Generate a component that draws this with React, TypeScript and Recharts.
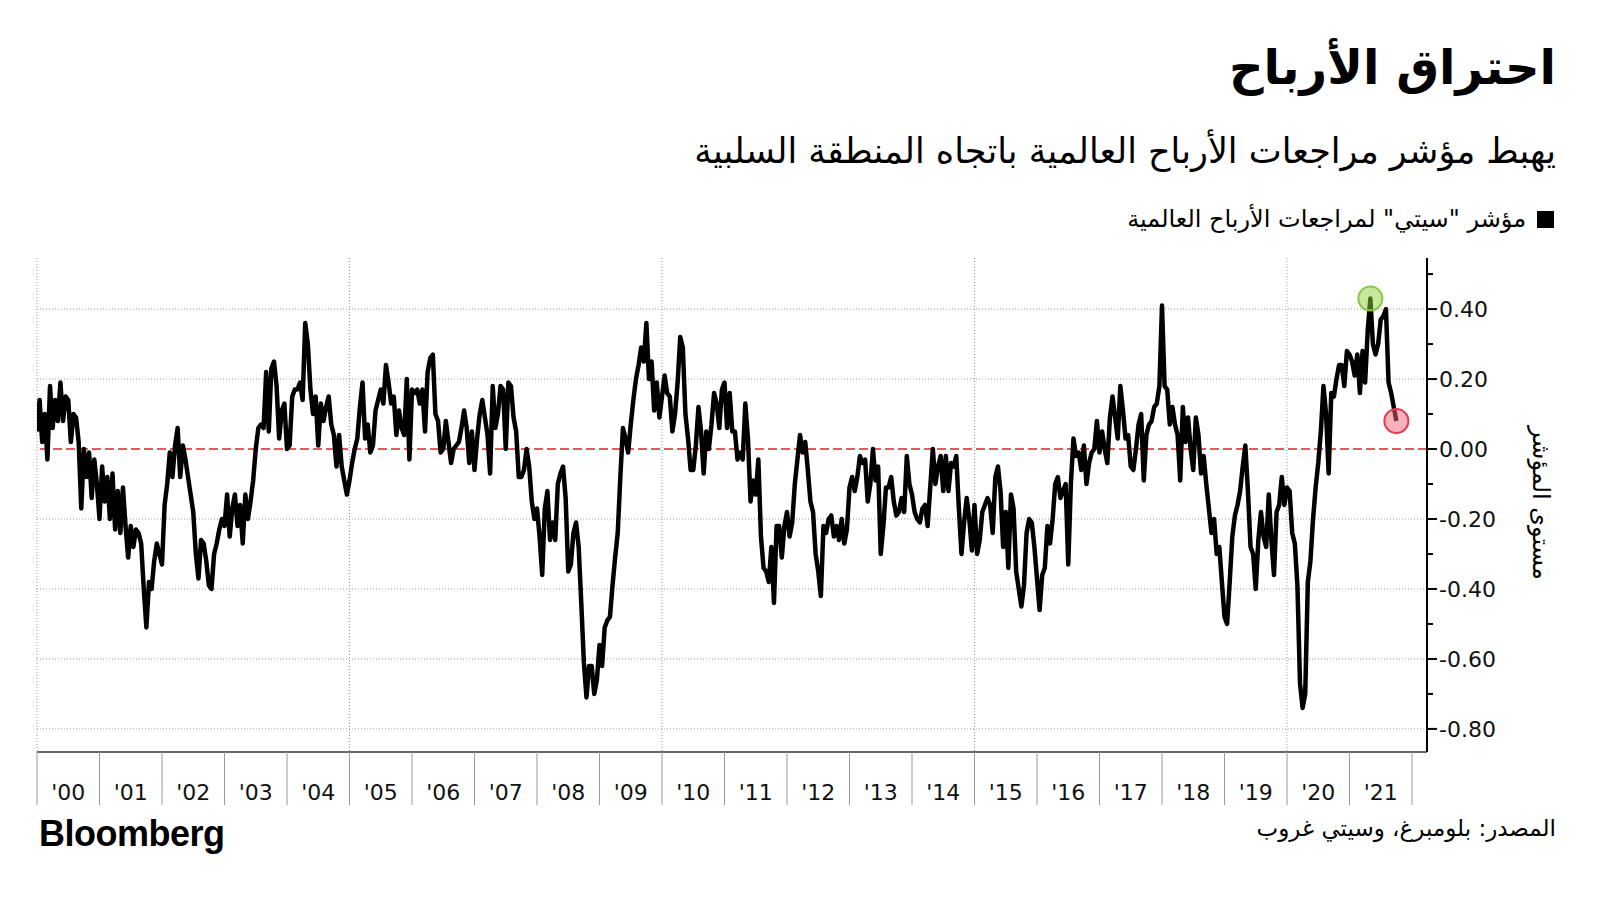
import React from "react";
import {
  LineChart,
  Line,
  XAxis,
  YAxis,
  CartesianGrid,
  ReferenceLine,
  ReferenceDot,
} from "recharts";

// semi-monthly readings of the Citi global earnings revision index
const y2000 = [0.05, 0.14, 0.02, 0.10, -0.03, 0.18, 0.06, 0.14, 0.08, 0.19, 0.08, 0.15, 0.14, 0.02, 0.10, 0.09, 0.02, -0.17, 0.0, -0.08, -0.01, -0.14, -0.03, -0.10];
const y2001 = [-0.2, -0.05, -0.15, -0.08, -0.2, -0.07, -0.23, -0.12, -0.24, -0.11, -0.22, -0.31, -0.22, -0.28, -0.23, -0.24, -0.27, -0.40, -0.51, -0.38, -0.40, -0.32, -0.27, -0.30];
const y2002 = [-0.33, -0.16, -0.10, -0.01, -0.08, 0.01, 0.06, -0.08, 0.01, -0.03, -0.08, -0.13, -0.18, -0.30, -0.37, -0.26, -0.27, -0.32, -0.39, -0.40, -0.30, -0.27, -0.23, -0.20];
const y2003 = [-0.22, -0.13, -0.25, -0.17, -0.13, -0.22, -0.16, -0.27, -0.13, -0.20, -0.15, -0.09, 0.0, 0.06, 0.07, 0.06, 0.22, 0.05, 0.23, 0.25, 0.18, 0.03, 0.11, 0.13];
const y2004 = [0.0, 0.01, 0.15, 0.17, 0.17, 0.19, 0.14, 0.36, 0.30, 0.17, 0.10, 0.15, 0.01, 0.13, 0.08, 0.12, 0.15, 0.07, 0.04, -0.05, 0.04, -0.05, -0.09, -0.13];
const y2005 = [-0.09, -0.04, 0.0, 0.03, 0.12, 0.19, 0.03, 0.07, -0.01, 0.01, 0.11, 0.14, 0.17, 0.13, 0.24, 0.19, 0.13, 0.15, 0.04, 0.11, 0.06, 0.04, 0.20, -0.03];
const y2006 = [0.17, 0.16, 0.17, 0.13, 0.17, 0.05, 0.22, 0.26, 0.27, 0.10, 0.08, -0.01, 0.0, 0.08, 0.02, -0.04, 0.0, 0.01, 0.02, 0.06, 0.11, 0.06, -0.04, 0.05];
const y2007 = [-0.06, 0.03, 0.10, 0.14, 0.09, 0.04, -0.07, 0.18, 0.06, 0.10, 0.18, 0.17, 0.0, 0.19, 0.18, 0.09, 0.05, -0.08, -0.08, -0.06, 0.0, -0.05, -0.15, -0.20];
const y2008 = [-0.17, -0.25, -0.36, -0.17, -0.12, -0.26, -0.21, -0.26, -0.10, -0.07, -0.05, -0.14, -0.35, -0.33, -0.24, -0.21, -0.28, -0.44, -0.61, -0.71, -0.62, -0.62, -0.70, -0.66];
const y2009 = [-0.56, -0.62, -0.51, -0.49, -0.48, -0.39, -0.31, -0.24, -0.08, 0.06, 0.03, -0.01, 0.07, 0.14, 0.20, 0.24, 0.29, 0.25, 0.36, 0.20, 0.25, 0.11, 0.19, 0.09];
const y2010 = [0.15, 0.21, 0.16, 0.15, 0.05, 0.10, 0.19, 0.32, 0.29, 0.10, 0.03, -0.06, -0.06, 0.01, 0.12, 0.05, -0.07, 0.05, 0.0, 0.07, 0.16, 0.13, 0.06, 0.17];
const y2011 = [0.19, 0.06, 0.16, 0.05, 0.05, -0.03, -0.01, -0.03, 0.13, 0.03, -0.15, -0.09, -0.13, -0.03, -0.25, -0.34, -0.35, -0.38, -0.28, -0.44, -0.22, -0.22, -0.31, -0.22];
const y2012 = [-0.18, -0.25, -0.21, -0.10, -0.03, 0.04, -0.01, 0.02, -0.06, -0.15, -0.18, -0.30, -0.35, -0.42, -0.22, -0.24, -0.20, -0.19, -0.25, -0.22, -0.26, -0.20, -0.27, -0.23];
const y2013 = [-0.11, -0.08, -0.12, -0.08, -0.02, -0.04, -0.03, -0.15, -0.10, 0.0, -0.09, -0.05, -0.30, -0.22, -0.11, -0.11, -0.08, -0.15, -0.19, -0.18, -0.14, -0.18, -0.02, -0.10];
const y2014 = [-0.13, -0.18, -0.20, -0.21, -0.17, -0.16, -0.22, -0.11, 0.0, -0.10, -0.05, -0.02, -0.12, -0.02, -0.12, -0.04, -0.05, -0.02, -0.17, -0.30, -0.21, -0.14, -0.20, -0.29];
const y2015 = [-0.16, -0.30, -0.26, -0.18, -0.16, -0.14, -0.16, -0.24, -0.08, -0.05, -0.12, -0.28, -0.18, -0.34, -0.13, -0.17, -0.35, -0.40, -0.45, -0.39, -0.24, -0.20, -0.21, -0.28];
const y2016 = [-0.37, -0.46, -0.36, -0.34, -0.22, -0.27, -0.20, -0.10, -0.08, -0.14, -0.12, -0.10, -0.33, -0.10, 0.03, -0.02, -0.01, -0.06, 0.01, -0.10, -0.04, -0.01, 0.0, 0.08];
const y2017 = [-0.01, 0.05, 0.0, -0.04, 0.09, 0.15, 0.09, 0.03, 0.18, 0.11, 0.03, 0.04, -0.05, -0.06, 0.0, 0.07, 0.10, -0.09, 0.04, 0.07, 0.08, 0.12, 0.13, 0.18];
const y2018 = [0.41, 0.18, 0.17, 0.07, 0.12, 0.07, 0.04, -0.09, 0.12, 0.02, 0.09, 0.0, -0.06, 0.09, 0.04, -0.07, -0.02, -0.10, -0.17, -0.24, -0.20, -0.30, -0.28, -0.38];
const y2019 = [-0.48, -0.50, -0.38, -0.25, -0.19, -0.16, -0.12, -0.05, 0.01, -0.12, -0.28, -0.30, -0.40, -0.26, -0.18, -0.25, -0.28, -0.13, -0.26, -0.36, -0.18, -0.16, -0.08, -0.16];
const y2020 = [-0.11, -0.12, -0.24, -0.27, -0.39, -0.67, -0.74, -0.70, -0.38, -0.32, -0.20, -0.11, -0.04, 0.05, 0.18, 0.10, -0.07, 0.16, 0.15, 0.20, 0.24, 0.24, 0.18, 0.28];
const y2021 = [0.27, 0.25, 0.21, 0.27, 0.16, 0.28, 0.19, 0.34, 0.43, 0.30, 0.27, 0.30, 0.37, 0.38, 0.40, 0.19, 0.16, 0.12, 0.08];

const years = [
  y2000, y2001, y2002, y2003, y2004, y2005, y2006, y2007, y2008, y2009, y2010,
  y2011, y2012, y2013, y2014, y2015, y2016, y2017, y2018, y2019, y2020, y2021,
];

const yearTicks = [
  2000, 2001, 2002, 2003, 2004, 2005, 2006, 2007, 2008, 2009, 2010, 2011,
  2012, 2013, 2014, 2015, 2016, 2017, 2018, 2019, 2020, 2021, 2022,
];
const yTicks = [-0.8, -0.7, -0.6, -0.5, -0.4, -0.3, -0.2, -0.1, 0, 0.1, 0.2, 0.3, 0.4, 0.5];
const gridY = [-0.8, -0.6, -0.4, -0.2, 0.2, 0.4];
const gridX = [2000, 2005, 2010, 2015, 2020];

const data = years.flatMap((vals, i) =>
  vals.map((v, k) => ({ t: 2000 + i + k / 24, v }))
);
const peak = data.reduce((a, b) => (b.v > a.v ? b : a), data[0]);
const last = data[data.length - 1];

const X_MIN = 2000;
const X_MAX = 2022.24;
const Y_MIN = -0.866;
const Y_MAX = 0.546;
const PLOT_LEFT = 37;
const PLOT_RIGHT = 1427;
const PX_PER_YEAR = (PLOT_RIGHT - PLOT_LEFT) / (X_MAX - X_MIN);

const FONT = '"DejaVu Sans", sans-serif';

function YearTick(props: any) {
  const { x, y, payload } = props;
  const v = payload.value;
  return (
    <g>
      <line x1={x} y1={y} x2={x} y2={y + 53} stroke="#999" strokeWidth={1} />
      {v < 2022 && (
        <text
          x={x + PX_PER_YEAR / 2}
          y={y + 48}
          textAnchor="middle"
          fontSize={22}
          fontFamily={FONT}
          fill="#111"
        >
          {"'" + String(v).slice(2)}
        </text>
      )}
    </g>
  );
}

function ValueTick(props: any) {
  const { x, y, payload } = props;
  const v = payload.value;
  const major = Math.round(v * 10) % 2 === 0;
  return (
    <g>
      <line x1={x} y1={y} x2={x + (major ? 10 : 6)} y2={y} stroke="#000" strokeWidth={2} />
      {major && (
        <text
          x={x + 12}
          y={y}
          dy={8}
          textAnchor="start"
          fontSize={22}
          fontFamily={FONT}
          fill="#111"
        >
          {v.toFixed(2)}
        </text>
      )}
    </g>
  );
}

export default function App() {
  return (
    <div
      style={{
        position: "absolute",
        left: 0,
        top: 0,
        width: 1600,
        height: 900,
        background: "#fff",
        fontFamily: FONT,
        color: "#000",
      }}
    >
      <div
        dir="rtl"
        style={{ position: "absolute", right: 44, top: 39, fontSize: 48, fontWeight: "bold", lineHeight: 1.2 }}
      >
        احتراق الأرباح
      </div>
      <div
        dir="rtl"
        style={{ position: "absolute", right: 44, top: 130, fontSize: 35, lineHeight: 1.2 }}
      >
        يهبط مؤشر مراجعات الأرباح العالمية باتجاه المنطقة السلبية
      </div>
      <div
        dir="rtl"
        style={{ position: "absolute", right: 46, top: 205, display: "flex", alignItems: "center", fontSize: 24 }}
      >
        <span style={{ width: 17, height: 17, background: "#000", marginLeft: 11, display: "inline-block" }} />
        <span>مؤشر "سيتي" لمراجعات الأرباح العالمية</span>
      </div>

      <div style={{ position: "absolute", left: 0, top: 0 }}>
        <LineChart
          width={1600}
          height={900}
          data={data}
          margin={{ top: 258, left: PLOT_LEFT, right: 1600 - PLOT_RIGHT - 60, bottom: 900 - 752 - 53 }}
        >
          <CartesianGrid
            horizontalValues={gridY}
            verticalValues={gridX}
            stroke="#999"
            strokeDasharray="1 2"
          />
          <XAxis
            dataKey="t"
            type="number"
            domain={[X_MIN, X_MAX]}
            ticks={yearTicks}
            interval={0}
            height={53}
            allowDataOverflow
            axisLine={{ stroke: "#333", strokeWidth: 1.5 }}
            tickLine={false}
            tickSize={0}
            tickMargin={0}
            tick={<YearTick />}
          />
          <YAxis
            orientation="right"
            type="number"
            domain={[Y_MIN, Y_MAX]}
            ticks={yTicks}
            interval={0}
            width={60}
            allowDataOverflow
            axisLine={{ stroke: "#000", strokeWidth: 2 }}
            tickLine={false}
            tickSize={0}
            tickMargin={0}
            tick={<ValueTick />}
          />
          <ReferenceLine y={0} stroke="#d9232e" strokeWidth={1.5} strokeDasharray="9 4" />
          <Line
            type="linear"
            dataKey="v"
            stroke="#000"
            strokeWidth={4.5}
            strokeLinejoin="round"
            dot={false}
            activeDot={false}
            isAnimationActive={false}
          />
          <ReferenceDot
            x={peak.t}
            y={peak.v}
            r={12}
            fill="rgba(150,210,60,0.5)"
            stroke="#8cc63f"
            strokeWidth={2}
          />
          <ReferenceDot
            x={last.t}
            y={last.v}
            r={12}
            fill="rgba(245,100,125,0.5)"
            stroke="#e03c50"
            strokeWidth={2}
          />
        </LineChart>
      </div>

      <div
        style={{
          position: "absolute",
          left: 1541,
          top: 503,
          transform: "translate(-50%, -50%) rotate(90deg)",
          fontSize: 24,
          whiteSpace: "nowrap",
        }}
        dir="rtl"
      >
        مستوى المؤشر
      </div>

      <div
        style={{
          position: "absolute",
          left: 39,
          top: 813,
          fontFamily: '"Liberation Sans", Arial, sans-serif',
          fontWeight: "bold",
          fontSize: 36,
          letterSpacing: -0.5,
        }}
      >
        Bloomberg
      </div>
      <div
        dir="rtl"
        style={{ position: "absolute", right: 44, top: 815, fontSize: 23 }}
      >
        المصدر: بلومبرغ، وسيتي غروب
      </div>
    </div>
  );
}
